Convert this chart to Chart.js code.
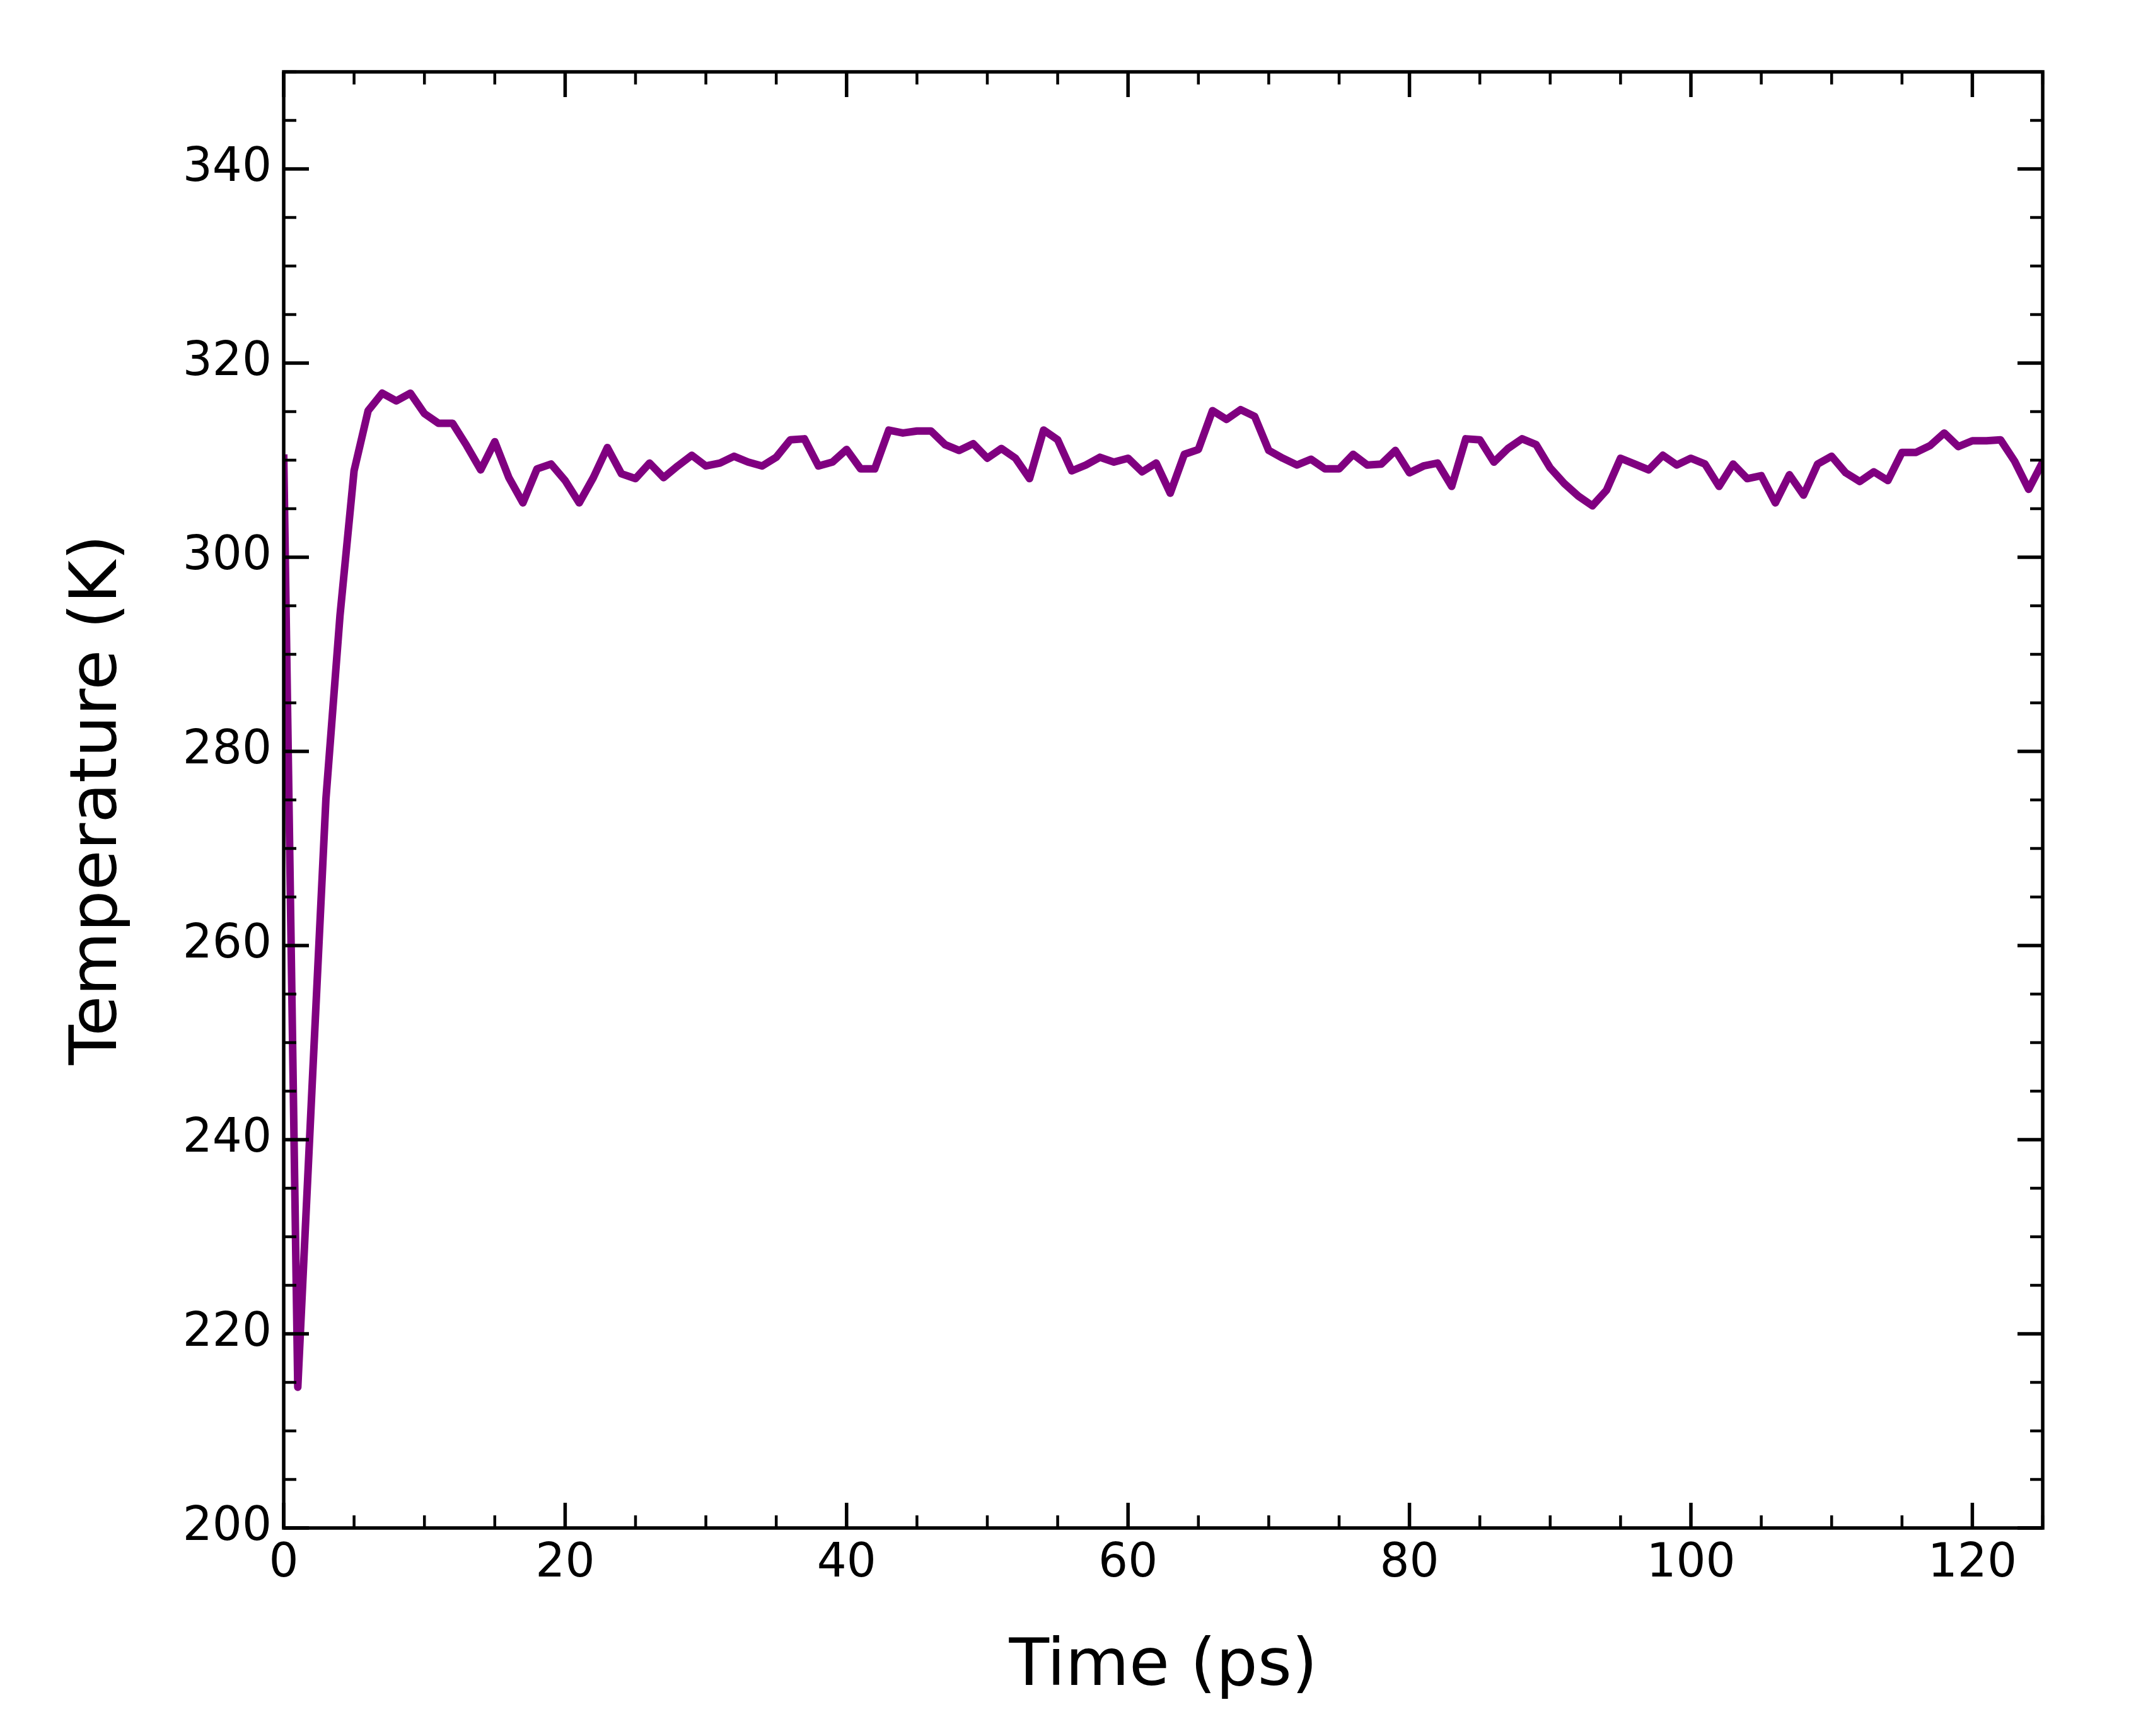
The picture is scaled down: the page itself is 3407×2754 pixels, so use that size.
<!DOCTYPE html>
<html>
<head>
<meta charset="utf-8">
<script src="https://cdn.jsdelivr.net/npm/chart.js@4"></script>
<style>
  body { margin: 0; background: #fff; }
  #wrap { width: 3407px; height: 2754px; }
</style>
</head>
<body>
<div id="wrap"><canvas id="tempChart" width="3407" height="2754"></canvas></div>
<script>
// time in ps, one sample per ps
const times = [
  0, 1, 2, 3, 4, 5, 6, 7, 8, 9, 10, 11, 12, 13, 14, 15, 16, 17, 18, 19,
  20, 21, 22, 23, 24, 25, 26, 27, 28, 29, 30, 31, 32, 33, 34, 35, 36, 37, 38, 39,
  40, 41, 42, 43, 44, 45, 46, 47, 48, 49, 50, 51, 52, 53, 54, 55, 56, 57, 58, 59,
  60, 61, 62, 63, 64, 65, 66, 67, 68, 69, 70, 71, 72, 73, 74, 75, 76, 77, 78, 79,
  80, 81, 82, 83, 84, 85, 86, 87, 88, 89, 90, 91, 92, 93, 94, 95, 96, 97, 98, 99,
  100, 101, 102, 103, 104, 105, 106, 107, 108, 109, 110, 111, 112, 113, 114, 115, 116, 117, 118, 119,
  120, 121, 122, 123, 124, 125
];

// temperature in K
const temperature = [
  310.6, 214.5, 245.0, 275.1, 294.0, 308.9, 315.1, 316.9, 316.1, 316.9,
  314.8, 313.8, 313.8, 311.5, 309.0, 311.9, 308.2, 305.6, 309.1, 309.6,
  307.9, 305.6, 308.2, 311.3, 308.6, 308.1, 309.7, 308.2, 309.4, 310.5,
  309.4, 309.7, 310.4, 309.8, 309.4, 310.3, 312.1, 312.2, 309.4, 309.8,
  311.1, 309.1, 309.1, 313.1, 312.8, 313.0, 313.0, 311.6, 311.0, 311.7,
  310.2, 311.2, 310.2, 308.1, 313.1, 312.1, 308.9, 309.5, 310.3, 309.8,
  310.2, 308.8, 309.7, 306.6, 310.6, 311.1, 315.1, 314.2, 315.2, 314.5,
  311.0, 310.2, 309.5, 310.1, 309.1, 309.1, 310.6, 309.5, 309.6, 311.0,
  308.7, 309.4, 309.7, 307.3, 312.2, 312.1, 309.8, 311.2, 312.2, 311.6,
  309.2, 307.6, 306.3, 305.3, 306.9, 310.2, 309.6, 309.0, 310.5, 309.5,
  310.2, 309.6, 307.3, 309.6, 308.1, 308.4, 305.6, 308.5, 306.4, 309.6,
  310.4, 308.7, 307.8, 308.8, 307.9, 310.8, 310.8, 311.5, 312.8, 311.4,
  312.0, 312.0, 312.1, 309.9, 307.0, 309.8
];

const xMin = 0, xMax = 125;
const yMin = 200, yMax = 350;

const points = times.map(function (t, i) {
  return { x: t, y: temperature[i] };
});

// matplotlib-style frame: spines plus inward major/minor ticks on every side
const frameTicks = {
  id: 'frameTicks',
  afterDraw(chart) {
    const c = chart.ctx;
    const a = chart.chartArea;
    const xs = chart.scales.x;
    const ys = chart.scales.y;
    c.save();
    c.strokeStyle = '#000';
    c.lineCap = 'butt';

    for (let v = xMin; v <= xMax; v += 5) {
      const major = v % 20 === 0;
      const len = major ? 40 : 20;
      c.lineWidth = major ? 5.5 : 4.5;
      const px = xs.getPixelForValue(v);
      c.beginPath();
      c.moveTo(px, a.bottom); c.lineTo(px, a.bottom - len);
      c.moveTo(px, a.top); c.lineTo(px, a.top + len);
      c.stroke();
    }
    for (let v = yMin; v <= yMax; v += 5) {
      const major = v % 20 === 0;
      const len = major ? 40 : 20;
      c.lineWidth = major ? 5.5 : 4.5;
      const py = ys.getPixelForValue(v);
      c.beginPath();
      c.moveTo(a.left, py); c.lineTo(a.left + len, py);
      c.moveTo(a.right, py); c.lineTo(a.right - len, py);
      c.stroke();
    }

    c.lineWidth = 5.5;
    c.strokeRect(a.left, a.top, a.right - a.left, a.bottom - a.top);
    c.restore();
  }
};

new Chart(document.getElementById('tempChart'), {
  type: 'line',
  data: {
    datasets: [{
      data: points,
      borderColor: '#800080',
      borderWidth: 12,
      borderJoinStyle: 'round',
      pointRadius: 0,
      tension: 0,
      fill: false,
      clip: 0
    }]
  },
  options: {
    responsive: false,
    animation: false,
    events: [],
    layout: {
      padding: { left: 0, top: 114, right: 167, bottom: 0 }
    },
    plugins: {
      legend: { display: false },
      tooltip: { enabled: false }
    },
    scales: {
      x: {
        type: 'linear',
        min: xMin,
        max: xMax,
        grid: { display: false, drawTicks: false },
        border: { display: false },
        ticks: {
          stepSize: 20,
          includeBounds: false,
          color: '#000',
          padding: 13,
          maxRotation: 0,
          font: { family: 'DejaVu Sans', size: 74 }
        },
        title: {
          display: true,
          text: 'Time (ps)',
          color: '#000',
          padding: { top: 0, bottom: 46 },
          font: { family: 'DejaVu Sans', size: 104 }
        },
        afterFit: function (scale) { scale.height = 330; }
      },
      y: {
        type: 'linear',
        min: yMin,
        max: yMax,
        grid: { display: false, drawTicks: false },
        border: { display: false },
        ticks: {
          stepSize: 20,
          includeBounds: false,
          color: '#000',
          padding: 19,
          font: { family: 'DejaVu Sans', size: 74 }
        },
        title: {
          display: true,
          text: 'Temperature (K)',
          color: '#000',
          padding: { top: 95, bottom: 0 },
          font: { family: 'DejaVu Sans', size: 104 }
        },
        afterFit: function (scale) { scale.width = 450; }
      }
    }
  },
  plugins: [frameTicks]
});
</script>
</body>
</html>
